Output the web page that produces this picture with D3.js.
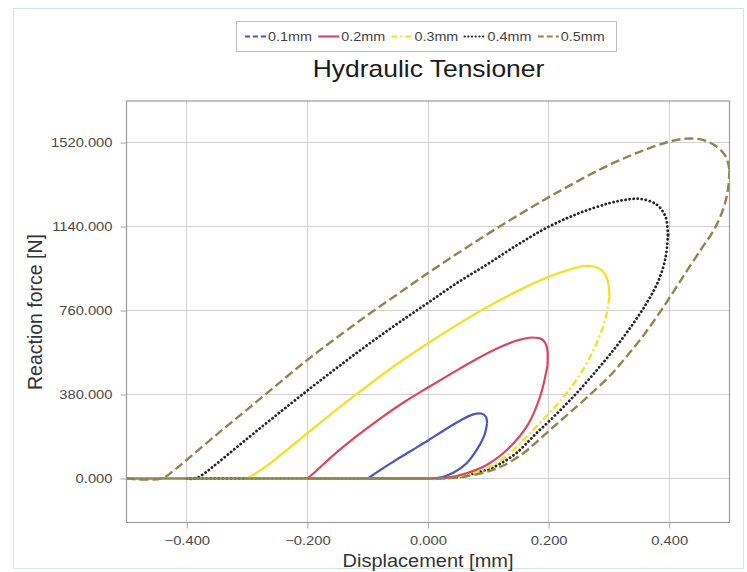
<!DOCTYPE html>
<html><head><meta charset="utf-8">
<script src="https://cdn.jsdelivr.net/npm/d3@7"></script>
<style>
body{margin:0;background:#fff;}
svg{display:block;font-family:"Liberation Sans",Arial,sans-serif;}
</style>
</head><body>
<svg id="c" width="747" height="572"></svg>
<script>
// ---------------- data ----------------
const seriesNames = ["0.1mm", "0.2mm", "0.3mm", "0.4mm", "0.5mm"];
const xTicks = [-0.4, -0.2, 0.0, 0.2, 0.4];
const yTicks = [0, 380, 760, 1140, 1520];
const chartTitle = "Hydraulic Tensioner";
const xTitle = "Displacement [mm]";
const yTitle = "Reaction force [N]";

// [displacement mm, reaction force N] : loading branch, turn, unloading branch, flat return
const loop01 = [[-0.100,0],[-0.085,28],[-0.060,72],[-0.030,122],[0.000,172],[0.030,224],[0.055,265],[0.075,290],[0.088,294],[0.096,280],[0.098,250],[0.094,200],[0.082,135],[0.064,69],[0.042,26],[0.020,4],[0.000,0],[-0.100,0]];
const loop02 = [[-0.200,0],[-0.185,35],[-0.160,98],[-0.120,188],[-0.080,270],[-0.040,345],[0.000,412],[0.040,477],[0.080,540],[0.120,595],[0.150,626],[0.172,638],[0.189,630],[0.197,595],[0.198,510],[0.187,380],[0.166,245],[0.133,135],[0.095,58],[0.065,25],[0.035,5],[0.000,0],[-0.200,0]];
const loop03 = [[-0.300,0],[-0.285,24],[-0.260,72],[-0.230,138],[-0.200,205],[-0.150,315],[-0.100,420],[-0.050,520],[0.000,612],[0.050,698],[0.100,778],[0.150,850],[0.200,912],[0.240,950],[0.265,962],[0.285,948],[0.297,905],[0.301,822],[0.294,720],[0.281,620],[0.263,520],[0.242,430],[0.219,350],[0.192,270],[0.164,190],[0.136,114],[0.104,55],[0.076,25],[0.045,6],[0.020,0],[-0.300,0]];
const loop04 = [[-0.400,0],[-0.385,0],[-0.370,25],[-0.350,68],[-0.300,180],[-0.250,290],[-0.200,398],[-0.150,503],[-0.100,605],[-0.050,702],[0.000,795],[0.050,888],[0.100,972],[0.150,1060],[0.200,1139],[0.250,1200],[0.300,1245],[0.330,1262],[0.352,1265],[0.379,1240],[0.394,1184],[0.398,1100],[0.394,1000],[0.383,900],[0.364,800],[0.340,700],[0.313,600],[0.283,500],[0.251,400],[0.216,300],[0.178,200],[0.146,114],[0.115,60],[0.086,30],[0.056,10],[0.030,2],[0.000,0],[-0.400,0]];
const loop05 = [[-0.500,0],[-0.442,0],[-0.420,40],[-0.400,85],[-0.350,200],[-0.300,312],[-0.250,425],[-0.200,537],[-0.150,640],[-0.100,740],[-0.050,835],[0.000,930],[0.050,1020],[0.100,1108],[0.150,1192],[0.200,1272],[0.250,1348],[0.300,1418],[0.350,1477],[0.400,1524],[0.430,1538],[0.457,1531],[0.479,1501],[0.494,1456],[0.500,1396],[0.498,1320],[0.493,1250],[0.484,1180],[0.471,1110],[0.452,1034],[0.420,900],[0.387,762],[0.358,650],[0.329,551],[0.300,460],[0.268,378],[0.236,300],[0.208,234],[0.180,165],[0.158,114],[0.126,60],[0.097,30],[0.064,10],[0.036,2],[0.000,0],[-0.500,0]];
const loops = [loop01, loop02, loop03, loop04, loop05];

// ---------------- styles ----------------
const styles = [
  {color:"#4b55c6", width:2.2, load:null, unload:null, flat:null, legendDash:"5,3", cap:"butt"},
  {color:"#d9475f", width:2.2, load:null, unload:null, flat:null, legendDash:null, cap:"butt"},
  {color:"#f2e22c", width:2.4, load:null, unload:"7,3,2,3", flat:null, legendDash:"6,3,2,3", cap:"butt"},
  {color:"#262626", width:2.8, load:"0.1,4", unload:"0.1,4", flat:"0.1,4", legendDash:"0.1,3.6", cap:"round"},
  {color:"#8e8650", width:2.4, load:"9,4", unload:"9,4", flat:null, legendDash:"6,3", cap:"butt"}
];
const drawOrder = [3, 0, 2, 1, 4];

const svg = d3.select("#c");
const M = {l:126.5, r:729.5, t:101, b:522.5};
const x = d3.scaleLinear().domain([-0.5, 0.5]).range([M.l, M.r]);
const y = d3.scaleLinear().domain([-199, 1708]).range([M.b, M.t]);
const fmt = d3.format(".3f");
const SX = 1.18;

// faint outer border
svg.append("rect").attr("x",13.5).attr("y",8.5).attr("width",730).attr("height",560)
  .attr("fill","none").attr("stroke","#d3e6ea").attr("stroke-width",1);

// grid
const grid = svg.append("g");
grid.selectAll("line.gx").data(xTicks).join("line")
  .attr("x1",d=>x(d)).attr("x2",d=>x(d)).attr("y1",M.t).attr("y2",M.b)
  .attr("stroke","#d2d2d2").attr("stroke-width",1).attr("shape-rendering","crispEdges");
grid.selectAll("line.gy").data(yTicks).join("line")
  .attr("y1",d=>y(d)).attr("y2",d=>y(d)).attr("x1",M.l).attr("x2",M.r)
  .attr("stroke","#d2d2d2").attr("stroke-width",1).attr("shape-rendering","crispEdges");

// axes
const xAxis = svg.append("g").attr("transform",`translate(0,${M.b})`)
  .call(d3.axisBottom(x).tickValues(xTicks).tickFormat(fmt).tickSize(6).tickSizeOuter(0));
const yAxis = svg.append("g").attr("transform",`translate(${M.l},0)`)
  .call(d3.axisLeft(y).tickValues(yTicks).tickFormat(fmt).tickSize(6).tickSizeOuter(0));
[xAxis, yAxis].forEach(a=>{
  a.select(".domain").remove();
  a.selectAll(".tick line").attr("stroke","#aaa");
  a.selectAll(".tick text").attr("fill","#4a4a4a").attr("font-size",12.5)
    .attr("font-family","Liberation Sans, Arial, sans-serif");
});
xAxis.selectAll(".tick text").attr("y",22.5).attr("dy",0)
  .attr("transform",`scale(${SX},1)`);
yAxis.selectAll(".tick text").attr("x",-14/SX).attr("dy","0.35em")
  .attr("transform",`scale(${SX},1)`);

// frame
svg.append("rect").attr("x",M.l).attr("y",M.t).attr("width",M.r-M.l).attr("height",M.b-M.t)
  .attr("fill","none").attr("stroke","#9d9d9d").attr("stroke-width",1.2);

// curves
svg.append("clipPath").attr("id","clip").append("rect")
  .attr("x",M.l).attr("y",M.t).attr("width",M.r-M.l).attr("height",M.b-M.t);
const line = d3.line().x(d=>x(d[0])).y(d=>y(d[1])).curve(d3.curveCatmullRom.alpha(0.5));
const lineFlat = d3.line().x(d=>x(d[0])).y(d=>y(d[1]));
const plot = svg.append("g").attr("clip-path","url(#clip)");
function seg(pts, gen, s, dash, w){
  plot.append("path").attr("d",gen(pts)).attr("fill","none")
    .attr("stroke",s.color).attr("stroke-width",w || s.width)
    .attr("stroke-linecap",s.cap).attr("stroke-linejoin","round")
    .attr("stroke-dasharray",dash);
}
drawOrder.forEach(i=>{
  const pts = loops[i], s = styles[i];
  const k = d3.maxIndex(pts, d=>d[0]);
  const z = pts.length - 2; // start of flat return (0,0)
  seg(pts.slice(0, k+1), line, s, s.load);
  seg(pts.slice(k, z+1), line, s, s.unload);
  seg(pts.slice(z), lineFlat, s, s.flat, i === 4 ? 2.6 : null);
});

// legend
const lg = svg.append("g");
lg.append("rect").attr("x",236.5).attr("y",21.5).attr("width",380).attr("height",30)
  .attr("fill","#fff").attr("stroke","#bdbdbd");
seriesNames.forEach((name,i)=>{
  const s = styles[i];
  const x0 = 245 + i*73.2;
  lg.append("line").attr("x1",x0).attr("x2",x0+21).attr("y1",36.5).attr("y2",36.5)
    .attr("stroke",s.color).attr("stroke-width",2.2).attr("stroke-linecap",s.cap)
    .attr("stroke-dasharray",s.legendDash);
  lg.append("g").attr("transform",`translate(${x0+23},41) scale(1.15,1)`)
    .append("text").text(name).attr("font-size",12.5).attr("fill","#444");
});

// titles
svg.append("g").attr("transform",`translate(428.5,77) scale(1.15,1)`)
  .append("text").text(chartTitle).attr("text-anchor","middle")
  .attr("font-size",23).attr("fill","#1a1a1a");
svg.append("g").attr("transform",`translate(428,567) scale(1.08,1)`)
  .append("text").text(xTitle).attr("text-anchor","middle")
  .attr("font-size",18.5).attr("fill","#333");
svg.append("text").text(yTitle).attr("text-anchor","middle")
  .attr("transform","translate(42,312) rotate(-90)")
  .attr("font-size",19.5).attr("fill","#333");
</script>
</body></html>
